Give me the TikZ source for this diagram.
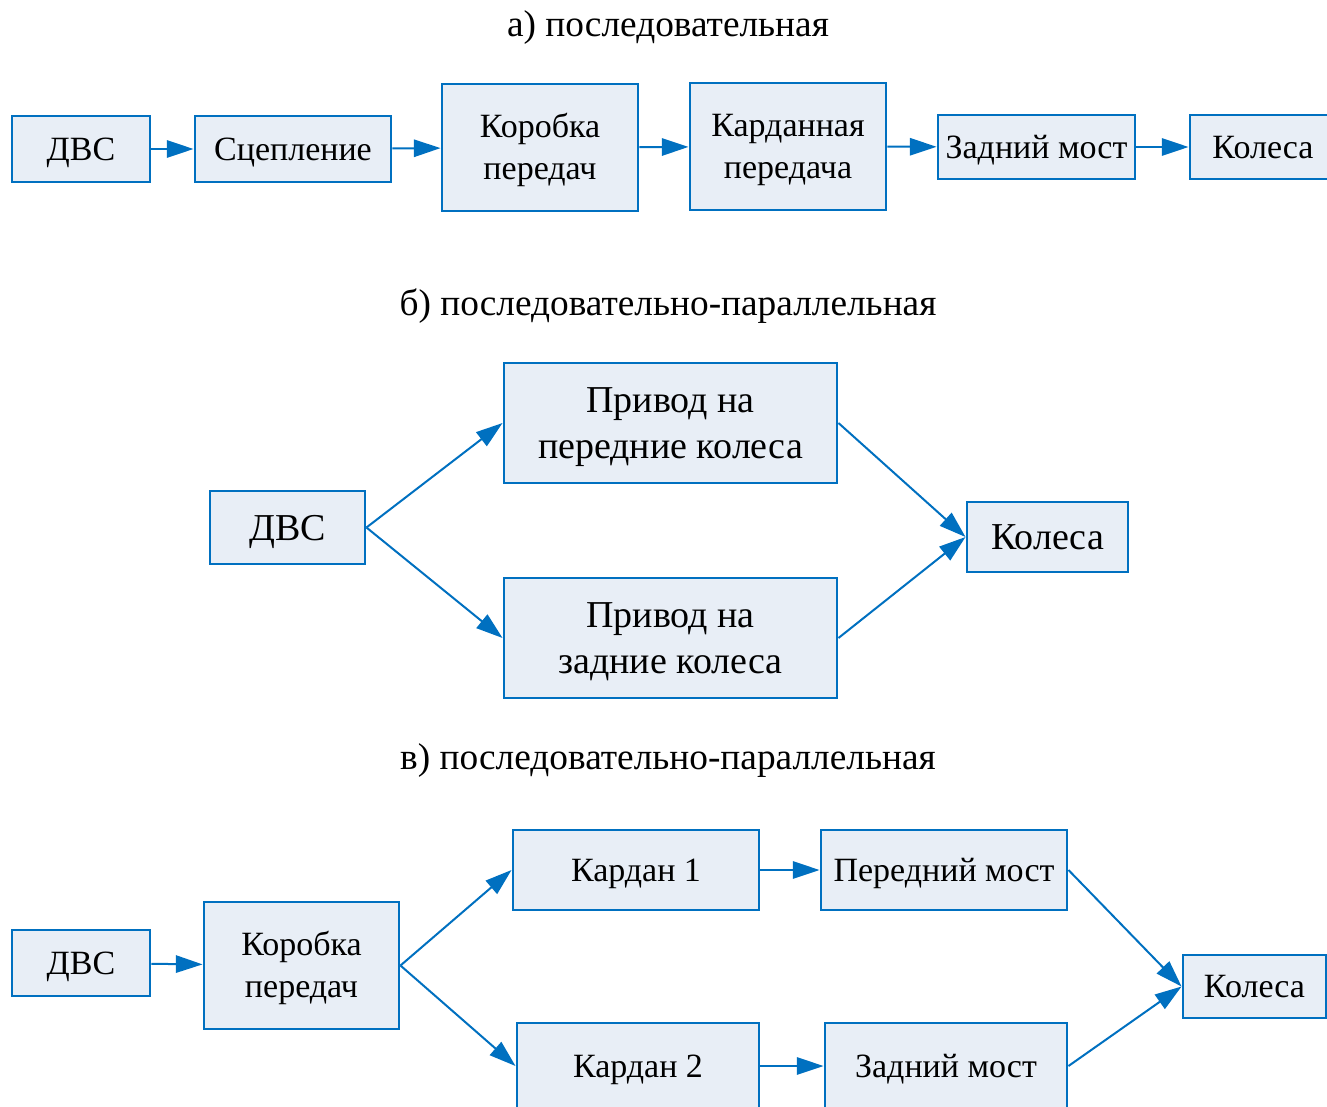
\documentclass[tikz,border=0pt]{standalone}
\usepackage{fontspec}
\setmainfont{Liberation Serif}
\usetikzlibrary{arrows.meta}
\definecolor{bordc}{HTML}{0070C0}
\definecolor{fillc}{HTML}{E8EEF6}
\newcommand\qTa{\rule{0pt}{22.9pt}}
\newcommand\qBa{\rule[-6pt]{0pt}{6pt}}
\newcommand\qTb{\rule{0pt}{25.9pt}}
\newcommand\qBb{\rule[-7pt]{0pt}{7pt}}
\begin{document}
\begin{tikzpicture}[x=0.75pt,y=-0.75pt,
  blk/.style={draw=bordc, fill=fillc, line width=2.2pt, inner sep=0pt, align=center, text=black},
  sz/.style 2 args={minimum width={#1*0.75pt}, minimum height={#2*0.75pt}},
  fa/.style={font=\fontsize{25.5}{31.5}\selectfont},
  fb/.style={font=\fontsize{28.5}{34.5}\selectfont},
  ttl/.style={font=\fontsize{28}{33}\selectfont, inner sep=0pt},
  arr/.style={draw=bordc, line width=1.5pt, -{Triangle[length=20pt,width=13pt]}}]
\useasboundingbox (0,0) rectangle (1327,1106);
\clip (0,0) rectangle (1327,1106);
% ---- a
\node[ttl] (ta) at (668,28) {а) последовательная};
\node[blk,fa,sz={138}{66}] (a1) at (81,149) {\qTa ДВС\qBa};
\node[blk,fa,sz={196}{66}] (a2) at (293,149) {\qTa Сцепление\qBa};
\node[blk,fa,sz={196}{127}] (a3) at (540,147.5) {\qTa Коробка\\передач\qBa};
\node[blk,fa,sz={196}{127}] (a4) at (788,146.5) {\qTa Карданная\\передача\qBa};
\node[blk,fa,sz={197}{64}] (a5) at (1036.5,147) {\qTa Задний мост\qBa};
\node[blk,fa,sz={146}{64}] (a6) at (1263,147) {\qTa Колеса\qBa};
\draw[arr] (a1) -- (a2);
\draw[arr] (a2) -- (a3);
\draw[arr] (a3) -- (a4);
\draw[arr] (a4) -- (a5);
\draw[arr] (a5) -- (a6);
% ---- b
\node[ttl] (tb) at (668,306) {б) последовательно-параллельная};
\node[blk,fb,sz={155}{73}] (b1) at (287.5,527.5) {\qTb ДВС\qBb};
\node[blk,fb,sz={333}{120}] (b2) at (670.5,423) {\qTb Привод на\\передние колеса\qBb};
\node[blk,fb,sz={333}{120}] (b3) at (670.5,638) {\qTb Привод на\\задние колеса\qBb};
\node[blk,fb,sz={161}{70}] (b4) at (1047.5,537) {\qTb Колеса\qBb};
\draw[arr] (b1.east) -- (b2.west);
\draw[arr] (b1.east) -- (b3.west);
\draw[arr] (b2.east) -- (b4.west);
\draw[arr] (b3.east) -- (b4.west);
% ---- c
\node[ttl] (tc) at (668,761) {в) последовательно-параллельная};
\node[blk,fa,sz={138}{66}] (c1) at (81,963) {\qTa ДВС\qBa};
\node[blk,fa,sz={195}{127}] (c2) at (301.5,965.5) {\qTa Коробка\\передач\qBa};
\node[blk,fa,sz={246}{80}] (c3) at (636,870) {\qTa Кардан 1\qBa};
\node[blk,fa,sz={246}{80}] (c4) at (944,870) {\qTa Передний мост\qBa};
\node[blk,fa,sz={242}{86}] (c5) at (638,1066) {\qTa Кардан 2\qBa};
\node[blk,fa,sz={242}{86}] (c6) at (946,1066) {\qTa Задний мост\qBa};
\node[blk,fa,sz={143}{63}] (c7) at (1254.5,986.5) {\qTa Колеса\qBa};
\draw[arr] (c1) -- (c2);
\draw[arr] (c2.east) -- (c3.west);
\draw[arr] (c2.east) -- (c5.west);
\draw[arr] (c3) -- (c4);
\draw[arr] (c5) -- (c6);
\draw[arr] (c4.east) -- (c7.west);
\draw[arr] (c6.east) -- (c7.west);
\end{tikzpicture}
\end{document}
